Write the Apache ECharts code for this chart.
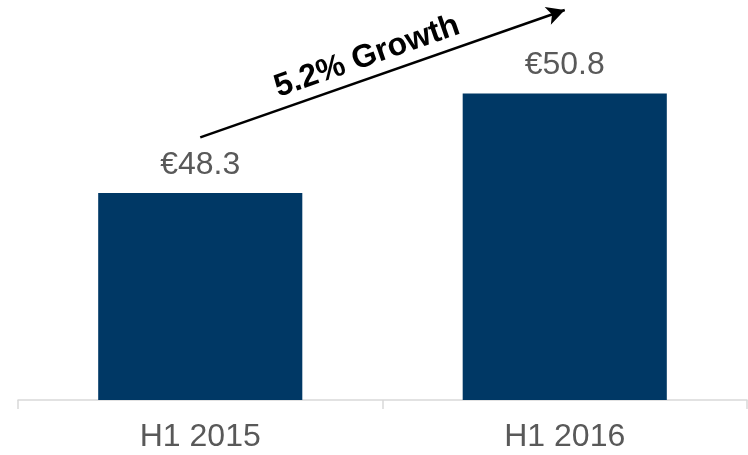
<!DOCTYPE html>
<html>
<head>
<meta charset="utf-8">
<script src="https://cdn.jsdelivr.net/npm/echarts@6/dist/echarts.min.js"></script>
<style>
  html, body { margin: 0; padding: 0; background: #fff; }
  #main { width: 748px; height: 455px; }
</style>
</head>
<body>
<div id="main"></div>
<script>
var categories = ['H1 2015', 'H1 2016'];
var revenue = [48.3, 50.8];
var growthLabel = '5.2% Growth';
// arrow runs from just above the first bar to above the second
var arrowFrom = ['H1 2015', 49.7];
var arrowTo = ['H1 2016', 52.9];

var myChart = echarts.init(document.getElementById('main'));

myChart.setOption({
  animation: false,
  grid: { left: 18, right: 1, top: 0, bottom: 55 },
  xAxis: {
    type: 'category',
    data: categories,
    axisLine: { lineStyle: { color: '#d9d9d9', width: 1.5 } },
    axisTick: { show: true, length: 9, lineStyle: { color: '#d9d9d9', width: 1.5 } },
    axisLabel: {
      color: '#595959',
      fontFamily: 'Liberation Sans',
      fontSize: 32,
      margin: 21
    }
  },
  yAxis: {
    type: 'value',
    min: 43.1,
    max: 53.15,
    show: false,
    splitLine: { show: false }
  },
  series: [{
    type: 'bar',
    data: revenue,
    barWidth: '56%',
    itemStyle: { color: '#003865' },
    label: {
      show: true,
      position: 'top',
      distance: 12,
      color: '#595959',
      fontFamily: 'Liberation Sans',
      fontSize: 32,
      formatter: function (p) { return '€' + p.value.toFixed(1); }
    },
    markLine: {
      silent: true,
      symbol: ['none', 'arrow'],
      symbolSize: [14, 18],
      lineStyle: { color: '#000', width: 2.5, type: 'solid' },
      label: {
        show: true,
        position: 'middle',
        distance: 5,
        padding: [0, 18, 0, 0],
        formatter: growthLabel,
        color: '#000',
        fontFamily: 'Liberation Sans',
        fontWeight: 'bold',
        fontSize: 32
      },
      data: [[{ coord: arrowFrom }, { coord: arrowTo }]]
    }
  }]
});
</script>
</body>
</html>
